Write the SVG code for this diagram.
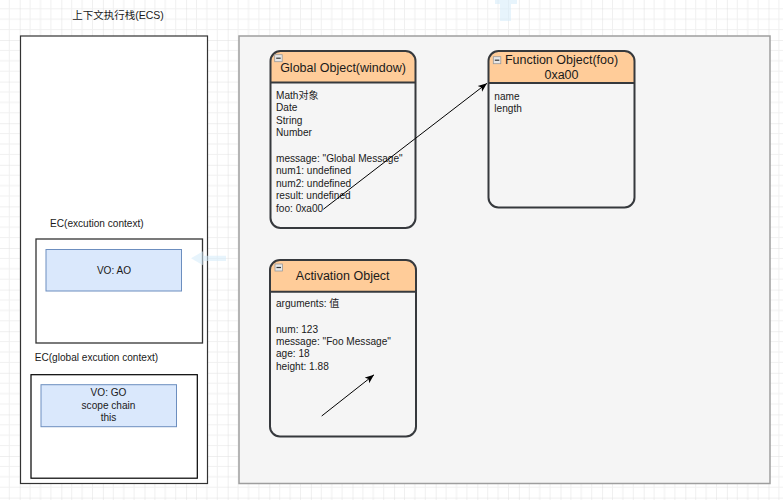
<svg xmlns="http://www.w3.org/2000/svg" width="783" height="500" viewBox="0 0 783 500">
<defs>
<pattern id="grid" patternUnits="userSpaceOnUse" x="19.7" y="-1.6" width="41.6" height="41.6">
<path d="M10.4,0V41.6M20.8,0V41.6M31.2,0V41.6M0,10.4H41.6M0,20.8H41.6M0,31.2H41.6" stroke="#f0f0f0" stroke-width="1" fill="none"/>
<path d="M0,0V41.6M0,0H41.6" stroke="#e0e0e0" stroke-width="1" fill="none"/>
</pattern>
<marker id="arrow" viewBox="0 0 10 10" refX="10" refY="5" markerWidth="9" markerHeight="9" markerUnits="userSpaceOnUse" orient="auto">
<path d="M0,1 L10,5 L0,9 L2.5,5 Z" fill="#000"/>
</marker>
<g id="collapse">
<rect x="0" y="0" width="7.5" height="7" fill="#e6e6e6" stroke="#999" stroke-width="0.8"/>
<path d="M1.5,3.5H6" stroke="#333" stroke-width="1.2"/>
</g>
</defs>
<style>
text{font-family:"Liberation Sans","Noto Sans CJK SC",sans-serif;fill:#1a1a1a}
.t10{font-size:10.1px}
.title{font-size:12.5px;text-anchor:middle}
.mid{text-anchor:middle}
.hdr{fill:#ffcc99}
.body{fill:#f5f5f5}
.outline{fill:none;stroke:#36393d;stroke-width:2}
.vo{fill:#dae8fc;stroke:#6c8ebf;stroke-width:1}
.conn{stroke:#000;stroke-width:1;fill:none}
.ghost{fill:#d4ebfa;opacity:0.55}
</style>
<rect x="0" y="0" width="783" height="500" fill="#fff"/>
<rect x="0" y="0" width="783" height="500" fill="url(#grid)"/>

<path class="ghost" d="M495,0 H517 V4 H511 V21 H500 V4 H495 Z"/>

<g id="ecs">
<text x="118" y="19" class="t10 mid" style="font-size:10.5px">上下文执行栈(ECS)</text>
<rect x="20.5" y="36" width="187" height="447.5" fill="#fff" stroke="#333" stroke-width="1.2"/>
</g>

<g id="ec-function">
<text x="50" y="226.5" class="t10">EC(excution context)</text>
<rect x="36" y="239" width="166.5" height="104" fill="#fff" stroke="#333" stroke-width="1.3"/>
</g>
<g id="vo-ao">
<rect x="46" y="249.5" width="135.5" height="41.5" class="vo"/>
<text x="114" y="273.5" class="t10 mid">VO: AO</text>
</g>

<path class="ghost" d="M191,258.3 L203,251.3 V255.7 H226 V261 H203 V265.3 Z"/>

<g id="ec-global">
<text x="34.7" y="361" class="t10">EC(global excution context)</text>
<rect x="31" y="374.7" width="166.3" height="103.5" fill="#fff" stroke="#000" stroke-width="1.2"/>
</g>
<g id="vo-go">
<rect x="41" y="384.7" width="135.5" height="42" class="vo"/>
<text x="108.5" y="396.3" class="t10 mid">VO: GO</text>
<text x="108.5" y="408.7" class="t10 mid">scope chain</text>
<text x="108.5" y="421.2" class="t10 mid">this</text>
</g>

<g id="heap">
<rect x="239" y="36" width="531" height="447.5" fill="#f5f5f5" stroke="#9e9e9e" stroke-width="1.5"/>
</g>

<g id="global-object">
<rect x="270.5" y="51" width="145" height="177" rx="10" class="body"/>
<path class="hdr" d="M270.5,82.5 V61 a10,10 0 0 1 10,-10 H405.5 a10,10 0 0 1 10,10 V82.5 Z"/>
<line x1="270.5" y1="82.5" x2="415.5" y2="82.5" stroke="#36393d" stroke-width="2"/>
<rect x="270.5" y="51" width="145" height="177" rx="10" class="outline"/>
<use href="#collapse" x="274.7" y="54.7"/>
<text x="343" y="72" class="title">Global Object(window)</text>
<text class="t10" x="276">
<tspan x="276" y="98.5">Math对象</tspan>
<tspan x="276" y="111">Date</tspan>
<tspan x="276" y="123.5">String</tspan>
<tspan x="276" y="136">Number</tspan>
<tspan x="276" y="161.5">message: "Global Message"</tspan>
<tspan x="276" y="174">num1: undefined</tspan>
<tspan x="276" y="186.5">num2: undefined</tspan>
<tspan x="276" y="199">result: undefined</tspan>
<tspan x="276" y="211.5">foo: 0xa00</tspan>
</text>
</g>

<g id="function-object">
<rect x="488.5" y="51" width="146" height="156.5" rx="10" class="body"/>
<path class="hdr" d="M488.5,83 V61 a10,10 0 0 1 10,-10 H624.5 a10,10 0 0 1 10,10 V83 Z"/>
<line x1="488.5" y1="83" x2="634.5" y2="83" stroke="#36393d" stroke-width="2"/>
<rect x="488.5" y="51" width="146" height="156.5" rx="10" class="outline"/>
<use href="#collapse" x="493.3" y="56.7"/>
<text x="561.5" y="64.3" class="title">Function Object(foo)</text>
<text x="561.5" y="78.6" class="title">0xa00</text>
<text class="t10">
<tspan x="494.3" y="99.5">name</tspan>
<tspan x="494.3" y="111.8">length</tspan>
</text>
</g>

<g id="activation-object">
<rect x="270" y="260" width="146" height="176.5" rx="10" class="body"/>
<path class="hdr" d="M270,291.7 V270 a10,10 0 0 1 10,-10 H406 a10,10 0 0 1 10,10 V291.7 Z"/>
<line x1="270" y1="291.7" x2="416" y2="291.7" stroke="#36393d" stroke-width="2"/>
<rect x="270" y="260" width="146" height="176.5" rx="10" class="outline"/>
<use href="#collapse" x="275" y="264"/>
<text x="342.7" y="280" class="title">Activation Object</text>
<text class="t10">
<tspan x="276" y="306.8">arguments: 值</tspan>
<tspan x="276" y="332.5">num: 123</tspan>
<tspan x="276" y="344.8">message: "Foo Message"</tspan>
<tspan x="276" y="357.2">age: 18</tspan>
<tspan x="276" y="369.5">height: 1.88</tspan>
</text>
</g>

<g id="connectors">
<line x1="323.3" y1="209.3" x2="487" y2="83.3" class="conn" marker-end="url(#arrow)"/>
<line x1="321.7" y1="416" x2="374" y2="374.8" class="conn" marker-end="url(#arrow)"/>
</g>
</svg>
